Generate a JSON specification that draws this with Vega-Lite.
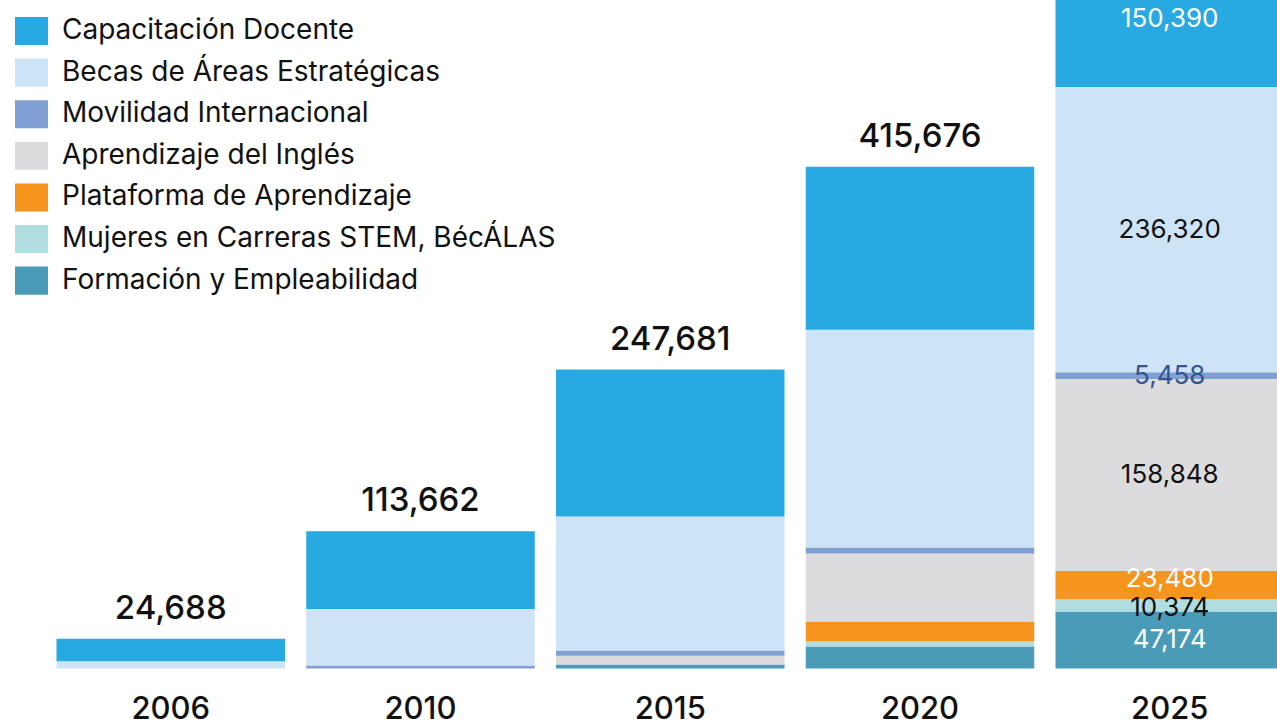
{
  "$schema": "https://vega.github.io/schema/vega-lite/v6.json",
  "width": 1277,
  "height": 668.5,
  "autosize": "none",
  "padding": {"left": 0, "top": 0, "right": 0, "bottom": 53.5},
  "background": "white",
  "config": {"view": {"stroke": null}, "font": "Inter"},
  "data": {
    "values": [
      {"year": "2006", "category": "Becas de Áreas Estratégicas", "value": 5988},
      {"year": "2006", "category": "Capacitación Docente", "value": 18700},
      {"year": "2010", "category": "Movilidad Internacional", "value": 2480},
      {"year": "2010", "category": "Becas de Áreas Estratégicas", "value": 46800},
      {"year": "2010", "category": "Capacitación Docente", "value": 64382},
      {"year": "2015", "category": "Formación y Empleabilidad", "value": 3260},
      {"year": "2015", "category": "Aprendizaje del Inglés", "value": 7350},
      {"year": "2015", "category": "Movilidad Internacional", "value": 4330},
      {"year": "2015", "category": "Becas de Áreas Estratégicas", "value": 110930},
      {"year": "2015", "category": "Capacitación Docente", "value": 121811},
      {"year": "2020", "category": "Formación y Empleabilidad", "value": 18207},
      {"year": "2020", "category": "Mujeres en Carreras STEM, BécÁLAS", "value": 4138},
      {"year": "2020", "category": "Plataforma de Aprendizaje", "value": 16552},
      {"year": "2020", "category": "Aprendizaje del Inglés", "value": 56275},
      {"year": "2020", "category": "Movilidad Internacional", "value": 4966},
      {"year": "2020", "category": "Becas de Áreas Estratégicas", "value": 180420},
      {"year": "2020", "category": "Capacitación Docente", "value": 135118},
      {"year": "2025", "category": "Formación y Empleabilidad", "value": 47174},
      {"year": "2025", "category": "Mujeres en Carreras STEM, BécÁLAS", "value": 10374},
      {"year": "2025", "category": "Plataforma de Aprendizaje", "value": 23480},
      {"year": "2025", "category": "Aprendizaje del Inglés", "value": 158848},
      {"year": "2025", "category": "Movilidad Internacional", "value": 5458},
      {"year": "2025", "category": "Becas de Áreas Estratégicas", "value": 236320},
      {"year": "2025", "category": "Capacitación Docente", "value": 150390}
    ]
  },
  "transform": [
    {"window": [{"op": "row_number", "as": "stackRank"}], "groupby": ["year"]}
  ],
  "encoding": {
    "x": {
      "field": "year",
      "type": "ordinal",
      "scale": {"range": [56.5, 1284], "paddingInner": 0.085, "paddingOuter": 0},
      "axis": {
        "title": null,
        "domain": false,
        "ticks": false,
        "tickSize": 0,
        "grid": false,
        "labelAngle": 0,
        "labelPadding": 50,
        "labelBaseline": "alphabetic",
        "labelFont": "Inter",
        "labelFontSize": 31,
        "labelFontWeight": 500,
        "labelColor": "#111111"
      }
    }
  },
  "layer": [
    {
      "mark": {"type": "bar"},
      "encoding": {
        "y": {
          "field": "value",
          "type": "quantitative",
          "stack": "zero",
          "scale": {"domain": [0, 553800], "nice": false, "zero": true},
          "axis": null
        },
        "color": {
          "field": "category",
          "type": "nominal",
          "scale": {
            "domain": [
              "Capacitación Docente",
              "Becas de Áreas Estratégicas",
              "Movilidad Internacional",
              "Aprendizaje del Inglés",
              "Plataforma de Aprendizaje",
              "Mujeres en Carreras STEM, BécÁLAS",
              "Formación y Empleabilidad"
            ],
            "range": ["#29a9e1", "#cde3f6", "#809fd3", "#dcdcde", "#f7941e", "#b0dde0", "#4a9bb7"]
          },
          "legend": {
            "title": null,
            "orient": "none",
            "legendX": 15,
            "legendY": 14.5,
            "direction": "vertical",
            "padding": 0,
            "symbolType": "M-1,-0.85H1V0.85H-1Z",
            "symbolSize": 1089,
            "symbolStrokeWidth": 0,
            "symbolOpacity": 1,
            "labelFont": "Inter",
            "labelFontSize": 28,
            "labelColor": "#111111",
            "labelOffset": 14,
            "labelLimit": 1000,
            "rowPadding": 10.6
          }
        },
        "order": {"field": "stackRank", "type": "quantitative", "sort": "ascending"}
      }
    },
    {
      "transform": [
        {"filter": "datum.year != '2025'"},
        {"aggregate": [{"op": "sum", "field": "value", "as": "total"}], "groupby": ["year"]}
      ],
      "mark": {"type": "text", "baseline": "alphabetic", "dy": -20, "fontSize": 33, "fontWeight": 500, "color": "#111111", "font": "Inter"},
      "encoding": {
        "y": {"field": "total", "type": "quantitative"},
        "text": {"field": "total", "type": "quantitative", "format": ","}
      }
    },
    {
      "transform": [{"filter": "datum.year == '2025'"}],
      "mark": {"type": "text", "baseline": "middle", "fontSize": 26, "font": "Inter"},
      "encoding": {
        "y": {"field": "value", "type": "quantitative", "stack": "zero", "bandPosition": 0.5},
        "detail": {"field": "category", "type": "nominal"},
        "order": {"field": "stackRank", "type": "quantitative", "sort": "ascending"},
        "text": {
          "condition": {"test": "datum.category == 'Formación y Empleabilidad' || datum.category == 'Aprendizaje del Inglés' || datum.category == 'Movilidad Internacional' || datum.category == 'Becas de Áreas Estratégicas'", "field": "value", "type": "quantitative", "format": ","},
          "value": ""
        },
        "color": {
          "condition": [
            {"test": "datum.category == 'Formación y Empleabilidad'", "value": "#ffffff"},
            {"test": "datum.category == 'Movilidad Internacional'", "value": "#34548f"}
          ],
          "value": "#111111"
        }
      }
    },
    {
      "transform": [{"filter": "datum.year == '2025'"}],
      "mark": {"type": "text", "baseline": "middle", "fontSize": 26, "font": "Inter", "color": "#ffffff"},
      "encoding": {
        "y": {"field": "value", "type": "quantitative", "stack": "zero", "bandPosition": 0.7},
        "detail": {"field": "category", "type": "nominal"},
        "order": {"field": "stackRank", "type": "quantitative", "sort": "ascending"},
        "text": {
          "condition": {"test": "datum.category == 'Plataforma de Aprendizaje'", "field": "value", "type": "quantitative", "format": ","},
          "value": ""
        }
      }
    },
    {
      "transform": [{"filter": "datum.year == '2025'"}],
      "mark": {"type": "text", "baseline": "middle", "fontSize": 26, "font": "Inter", "color": "#111111"},
      "encoding": {
        "y": {"field": "value", "type": "quantitative", "stack": "zero", "bandPosition": 0.25},
        "detail": {"field": "category", "type": "nominal"},
        "order": {"field": "stackRank", "type": "quantitative", "sort": "ascending"},
        "text": {
          "condition": {"test": "datum.category == 'Mujeres en Carreras STEM, BécÁLAS'", "field": "value", "type": "quantitative", "format": ","},
          "value": ""
        }
      }
    },
    {
      "transform": [{"filter": "datum.year == '2025'"}],
      "mark": {"type": "text", "baseline": "middle", "fontSize": 26, "font": "Inter", "color": "#ffffff"},
      "encoding": {
        "y": {"field": "value", "type": "quantitative", "stack": "zero", "bandPosition": 0.375},
        "detail": {"field": "category", "type": "nominal"},
        "order": {"field": "stackRank", "type": "quantitative", "sort": "ascending"},
        "text": {
          "condition": {"test": "datum.category == 'Capacitación Docente'", "field": "value", "type": "quantitative", "format": ","},
          "value": ""
        }
      }
    }
  ]
}
